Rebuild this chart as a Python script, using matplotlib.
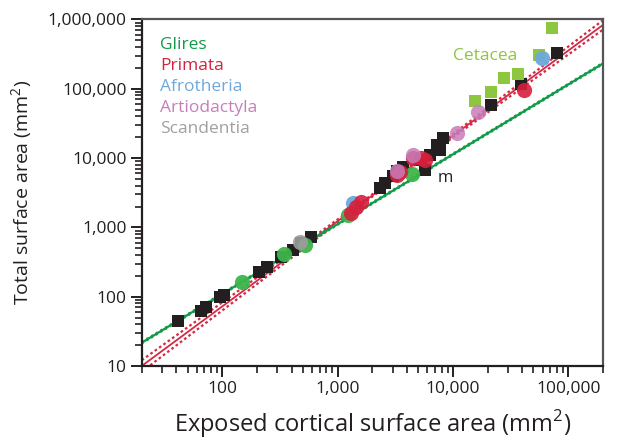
import numpy as np
import matplotlib
matplotlib.use("Agg")
import matplotlib.pyplot as plt
from matplotlib.ticker import LogLocator, FuncFormatter, NullFormatter

plt.rcParams['font.family'] = ['Open Sans', 'DejaVu Sans']

# Exposed cortical surface area (x) vs total surface area (y), mm^2
other_x = [41, 65, 72, 95, 103, 206, 242, 325, 412, 483, 589, 2350, 2600, 3000, 3300,
           3700, 5300, 5700, 6300, 7300, 7700, 8200, 21600, 39000, 80000]
other_y = [45, 62, 71, 100, 106, 226, 268, 373, 471, 594, 725, 3690, 4350, 5500, 6500,
           7400, 9300, 6700, 11000, 15400, 13000, 19400, 58000, 116000, 326000]

glires_x = [147, 345, 520, 1220, 4400]
glires_y = [163, 410, 560, 1500, 5900]

primata_x = [1300, 1440, 1580, 3300, 3500, 4500, 5300, 5700, 41500]
primata_y = [1600, 1960, 2300, 5700, 6200, 10000, 10000, 9300, 95000]

afrotheria_x = [1350, 1450, 59000]
afrotheria_y = [2240, 2000, 276000]

artiodactyla_x = [3300, 4500, 10800, 16400]
artiodactyla_y = [6400, 11000, 23000, 46000]

scandentia_x = [470]
scandentia_y = [610]

cetacea_x = [15700, 21500, 28000, 36500, 56000, 72000]
cetacea_y = [67000, 90000, 142000, 165000, 305000, 760000]

# Power-law fits: log10(y) = a + b*log10(x)
glires_fit = (0.026, 1.007)
primata_fit = (-0.600, 1.23)

fig = plt.figure(figsize=(6.19, 4.42), dpi=100)
ax = fig.add_axes([0.229, 0.172, 0.745, 0.784])
ax.set_xscale('log')
ax.set_yscale('log')
ax.set_xlim(20, 200000)
ax.set_ylim(10, 1000000)

green_line = '#119a48'
red_line = '#d42a45'

lx = np.linspace(np.log10(20), np.log10(200000), 200)
xs = 10 ** lx

# Primata fit with confidence band
a, b = primata_fit
ly = a + b * lx
hw = np.sqrt(0.015 ** 2 + (0.037 * (lx - 3.5)) ** 2)
ax.plot(xs, 10 ** ly, color=red_line, lw=1.3, zorder=2)
ax.plot(xs, 10 ** (ly + hw), color=red_line, lw=1.6, ls=(0, (1.2, 1.2)), zorder=2)
ax.plot(xs, 10 ** (ly - hw), color=red_line, lw=1.6, ls=(0, (1.2, 1.2)), zorder=2)

# Glires fit with narrow confidence band
a, b = glires_fit
ly = a + b * lx
ax.plot(xs, 10 ** ly, color=green_line, lw=1.6, zorder=2)
ax.plot(xs, 10 ** (ly + 0.012), color=green_line, lw=1.4, ls=(0, (1.2, 1.6)), zorder=2)
ax.plot(xs, 10 ** (ly - 0.012), color=green_line, lw=1.4, ls=(0, (1.2, 1.6)), zorder=2)

sq = 80
circ = 120
ax.scatter(other_x, other_y, s=sq, marker='s', color='#231f20', lw=0, zorder=3)
ax.scatter(cetacea_x, cetacea_y, s=sq, marker='s', color='#8dc63f', lw=0, zorder=3)
ax.scatter(glires_x, glires_y, s=circ, marker='o', color='#3db54a', lw=0, alpha=0.95, zorder=4)
ax.scatter(scandentia_x, scandentia_y, s=circ, marker='o', color='#9d9d9d', lw=0, alpha=0.9, zorder=4)
ax.scatter(afrotheria_x, afrotheria_y, s=circ, marker='o', color='#6fa8dc', lw=0, alpha=0.95, zorder=4)
ax.scatter(primata_x, primata_y, s=circ, marker='o', color='#d6203c', lw=0, alpha=0.9, zorder=4)
ax.scatter(artiodactyla_x, artiodactyla_y, s=circ, marker='o', color='#c77dba', lw=0, alpha=0.85, zorder=4)

# Group labels
labels = [('Glires', '#119a48'), ('Primata', '#d6203c'), ('Afrotheria', '#6fa8dc'),
          ('Artiodactyla', '#c77dba'), ('Scandentia', '#a0a0a0')]
for i, (t, c) in enumerate(labels):
    ax.text(0.04, 0.925 - i * 0.06, t, color=c, fontsize=12.5, transform=ax.transAxes,
            va='center', ha='left')
ax.text(0.675, 0.895, 'Cetacea', color='#8dc63f', fontsize=12.5, transform=ax.transAxes,
        va='center', ha='left')
ax.text(7300, 5200, 'm', color='#231f20', fontsize=12, va='center', ha='left')

# Axes styling
fmt = FuncFormatter(lambda v, p: f"{v:,.0f}")
ax.xaxis.set_major_locator(LogLocator(base=10, numticks=10))
ax.yaxis.set_major_locator(LogLocator(base=10, numticks=10))
ax.xaxis.set_minor_locator(LogLocator(base=10, subs=np.arange(2, 10), numticks=20))
ax.yaxis.set_minor_locator(LogLocator(base=10, subs=np.arange(2, 10), numticks=20))
ax.xaxis.set_major_formatter(fmt)
ax.yaxis.set_major_formatter(fmt)
ax.xaxis.set_minor_formatter(NullFormatter())
ax.yaxis.set_minor_formatter(NullFormatter())
ax.tick_params(which='major', direction='out', length=8, width=1.4, labelsize=12.5,
               colors='#231f20', pad=3)
ax.tick_params(which='minor', direction='out', length=5, width=1.2, colors='#231f20')
ax.tick_params(top=False, right=False, which='both')

for s in ['left', 'bottom']:
    ax.spines[s].set_color('#231f20')
    ax.spines[s].set_linewidth(1.6)
for s in ['top', 'right']:
    ax.spines[s].set_color('#555555')
    ax.spines[s].set_linewidth(1.6)

ax.set_xlabel(r'Exposed cortical surface area (mm$^\mathregular{2}$)', fontsize=17,
              color='#231f20', labelpad=8)
ax.set_ylabel(r'Total surface area (mm$^\mathregular{2}$)', fontsize=14,
              color='#231f20', labelpad=9)

fig.savefig('out.png', dpi=100)
